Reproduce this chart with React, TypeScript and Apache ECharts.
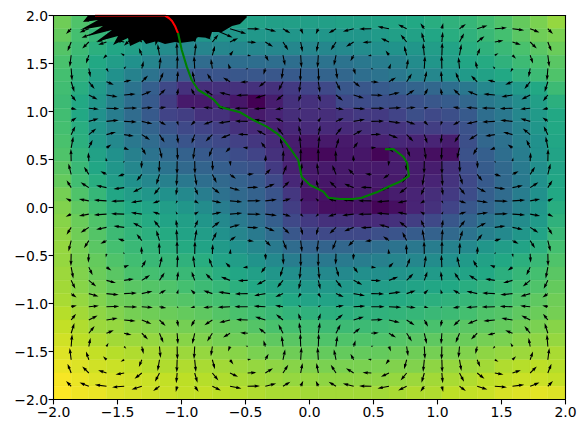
import React, { useEffect, useRef } from "react";
import * as echarts from "echarts";

const gridX = [-2,-1.862,-1.724,-1.586,-1.448,-1.31,-1.172,-1.034,-0.897,-0.759,-0.621,-0.483,-0.345,-0.207,-0.069,0.069,0.207,0.345,0.483,0.621,0.759,0.897,1.034,1.172,1.31,1.448,1.586,1.724,1.862,2];
const gridY = gridX;

// colour level of each cell, top row first, 0..100 along viridis
const heatRows = [
[78,72,70,68,66,64,62,60,58,57,57,57,56,56,56,56,57,57,58,59,60,62,64,66,69,72,76,80,84],
[76,70,66,64,62,58,55,53,52,52,52,53,52,52,52,52,52,52,54,56,57,59,62,64,67,70,74,78,80],
[73,68,63,59,56,52,48,46,45,46,46,46,46,46,46,46,47,48,49,51,52,55,58,62,64,67,71,74,77],
[71,66,60,55,50,45,40,37,35,35,36,36,36,36,37,38,38,40,42,44,48,52,55,59,61,64,68,71,74],
[70,64,57,50,44,38,32,27,26,26,27,27,27,28,30,32,33,36,38,40,44,46,50,54,57,60,64,68,72],
[69,62,54,45,38,30,22,14,13,14,14,14,14,17,20,22,27,27,28,30,32,33,36,40,46,50,54,60,68],
[68,60,52,43,36,28,18,7,7,10,6,0,8,14,14,15,22,23,24,24,25,27,29,33,40,43,48,56,63],
[69,60,50,42,35,28,20,18,14,14,9,7,10,13,13,13,15,17,17,20,24,22,24,28,36,40,46,54,60],
[70,62,52,45,38,32,26,22,20,18,14,12,9,11,12,12,12,13,14,15,17,18,20,25,34,38,44,52,60],
[71,63,54,47,40,35,30,26,24,22,19,16,12,8,6,7,7,8,9,11,10,10,8,24,33,37,43,50,59],
[72,65,57,50,43,38,34,31,28,26,23,20,14,8,2,2,6,6,1,6,6,4,4,25,30,36,42,50,58],
[74,67,59,52,46,42,38,34,32,30,27,25,17,9,7,7,7,7,7,8,8,8,14,23,29,34,41,49,58],
[76,69,62,55,50,46,43,40,36,34,31,28,22,11,7,6,7,7,7,7,8,10,15,22,28,34,41,50,59],
[79,72,66,59,55,52,50,47,42,37,34,31,26,16,6,5,5,7,5,8,10,13,17,23,30,35,42,50,60],
[81,75,69,63,60,58,55,52,48,42,37,33,27,18,8,4,4,5,1,4,10,14,20,27,32,37,44,52,62],
[82,77,72,66,63,61,58,56,52,47,41,36,30,22,17,14,14,12,12,14,18,22,27,32,38,42,48,54,64],
[83,78,73,68,65,63,61,58,55,50,45,41,35,27,22,22,22,22,24,26,29,31,34,38,43,47,52,58,67],
[84,79,74,70,67,65,63,61,58,54,50,46,41,35,32,32,33,34,36,38,40,42,44,47,52,55,58,63,70],
[84,80,76,72,69,67,66,64,62,58,55,51,47,42,40,40,41,42,43,45,46,48,50,54,57,60,63,67,72],
[85,81,77,74,71,70,68,67,65,62,59,56,52,49,47,47,47,49,49,51,52,54,56,58,60,63,66,70,74],
[86,82,79,76,74,73,72,70,68,66,63,60,57,55,53,53,53,54,55,56,58,59,60,62,64,66,69,72,76],
[87,84,81,78,77,75,74,73,71,70,67,65,62,60,58,58,58,59,60,61,62,63,64,66,68,70,72,75,78],
[89,86,83,81,79,78,77,76,75,73,71,69,67,65,64,63,63,64,64,65,66,67,68,70,72,73,75,77,79],
[91,88,85,84,82,81,80,79,78,76,75,73,71,70,69,68,68,68,68,69,70,71,72,74,75,76,78,80,82],
[93,90,88,86,85,84,83,82,81,79,78,77,75,74,73,72,72,72,72,73,74,75,76,77,79,80,82,83,84],
[95,93,91,89,88,87,86,85,84,83,82,80,79,78,77,76,76,76,76,77,78,79,80,81,83,84,85,86,87],
[97,95,93,92,91,89,88,88,87,86,85,84,83,82,81,80,80,80,80,81,81,83,84,85,86,88,89,90,89],
[99,97,95,94,93,92,91,90,89,88,87,86,85,84,84,83,83,83,83,84,85,86,87,88,90,91,92,92,91],
[100,98,97,95,94,93,92,91,91,90,89,88,87,87,86,86,86,86,86,87,88,88,90,91,92,94,95,96,95],
];

const viridisStops = ["#440154","#482475","#414487","#355f8d","#2a788e","#21918c","#22a884","#44bf70","#7ad151","#bddf26","#fde725"];

// arrow components, bottom row first; 100 is about 13.5 px
const uRows = [
[0,-4,-8,-10,-10,-8,-5,-1,3,7,9,10,9,6,2,-2,-6,-9,-10,-9,-7,-3,1,5,8,10,10,8,4,0],
[0,-38,-69,-87,-90,-76,-47,-10,29,63,85,91,80,55,19,-19,-55,-80,-91,-85,-63,-29,10,47,76,90,87,69,38,0],
[0,-27,-49,-62,-64,-54,-34,-7,21,45,60,65,57,39,14,-14,-39,-57,-65,-60,-45,-21,7,34,54,64,62,49,27,0],
[0,-11,-21,-26,-27,-22,-14,-3,9,19,25,27,24,16,6,-6,-16,-24,-27,-25,-19,-9,3,14,22,27,26,21,11,0],
[0,7,12,15,16,13,8,2,-5,-11,-15,-16,-14,-10,-3,3,10,14,16,15,11,5,-2,-8,-13,-16,-15,-12,-7,0],
[0,24,43,54,55,46,29,6,-18,-39,-52,-56,-49,-34,-12,12,34,49,56,52,39,18,-6,-29,-46,-55,-54,-43,-24,0],
[0,36,65,83,85,71,45,9,-28,-59,-80,-86,-76,-52,-18,18,52,76,86,80,59,28,-9,-45,-71,-85,-83,-65,-36,0],
[0,42,75,95,98,82,51,11,-32,-68,-92,-99,-87,-59,-21,21,59,87,99,92,68,32,-11,-51,-82,-98,-95,-75,-42,0],
[0,40,72,91,94,79,49,10,-30,-66,-88,-95,-84,-57,-20,20,57,84,95,88,66,30,-10,-49,-79,-94,-91,-72,-40,0],
[0,31,55,70,72,61,38,8,-23,-50,-68,-73,-64,-44,-15,15,44,64,73,68,50,23,-8,-38,-61,-72,-70,-55,-31,0],
[0,16,28,36,37,31,19,4,-12,-26,-34,-37,-33,-22,-8,8,22,33,37,34,26,12,-4,-19,-31,-37,-36,-28,-16,0],
[0,-2,-4,-5,-5,-4,-3,-1,2,3,5,5,4,3,1,-1,-3,-4,-5,-5,-3,-2,1,3,4,5,5,4,2,0],
[0,-20,-36,-45,-47,-39,-24,-5,15,32,44,47,41,28,10,-10,-28,-41,-47,-44,-32,-15,5,24,39,47,45,36,20,0],
[0,-34,-61,-77,-79,-66,-42,-9,26,55,74,80,70,48,17,-17,-48,-70,-80,-74,-55,-26,9,42,66,79,77,61,34,0],
[0,-41,-74,-94,-97,-81,-51,-11,31,68,91,98,86,59,21,-21,-59,-86,-98,-91,-68,-31,11,51,81,97,94,74,41,0],
[0,-41,-74,-94,-97,-81,-51,-11,31,68,91,98,86,59,21,-21,-59,-86,-98,-91,-68,-31,11,51,81,97,94,74,41,0],
[0,-34,-61,-77,-79,-66,-42,-9,26,55,74,80,70,48,17,-17,-48,-70,-80,-74,-55,-26,9,42,66,79,77,61,34,0],
[0,-20,-36,-45,-47,-39,-24,-5,15,32,44,47,41,28,10,-10,-28,-41,-47,-44,-32,-15,5,24,39,47,45,36,20,0],
[0,-2,-4,-5,-5,-4,-3,-1,2,3,5,5,4,3,1,-1,-3,-4,-5,-5,-3,-2,1,3,4,5,5,4,2,0],
[0,16,28,36,37,31,19,4,-12,-26,-34,-37,-33,-22,-8,8,22,33,37,34,26,12,-4,-19,-31,-37,-36,-28,-16,0],
[0,31,55,70,72,61,38,8,-23,-50,-68,-73,-64,-44,-15,15,44,64,73,68,50,23,-8,-38,-61,-72,-70,-55,-31,0],
[0,40,72,91,94,79,49,10,-30,-66,-88,-95,-84,-57,-20,20,57,84,95,88,66,30,-10,-49,-79,-94,-91,-72,-40,0],
[0,42,75,95,98,82,51,11,-32,-68,-92,-99,-87,-59,-21,21,59,87,99,92,68,32,-11,-51,-82,-98,-95,-75,-42,0],
[0,36,65,83,85,71,45,9,-28,-59,-80,-86,-76,-52,-18,18,52,76,86,80,59,28,-9,-45,-71,-85,-83,-65,-36,0],
[0,24,43,54,55,46,29,6,-18,-39,-52,-56,-49,-34,-12,12,34,49,56,52,39,18,-6,-29,-46,-55,-54,-43,-24,0],
[0,7,12,15,16,13,8,2,-5,-11,-15,-16,-14,-10,-3,3,10,14,16,15,11,5,-2,-8,-13,-16,-15,-12,-7,0],
[0,-11,-21,-26,-27,-22,-14,-3,9,19,25,27,24,16,6,-6,-16,-24,-27,-25,-19,-9,3,14,22,27,26,21,11,0],
[0,-27,-49,-62,-64,-54,-34,-7,21,45,60,65,57,39,14,-14,-39,-57,-65,-60,-45,-21,7,34,54,64,62,49,27,0],
[0,-38,-69,-185,-200,-133,-30,52,120,150,120,91,80,55,19,-19,-55,-80,-91,-85,-63,-29,10,47,76,90,87,69,38,0],
[0,-4,-8,-150,-300,-250,-150,30,150,200,130,10,9,6,2,-2,-6,-9,-10,-9,-7,-3,1,5,8,10,10,8,4,0],
];

const vRows = [
[0,0,0,0,0,0,0,0,0,0,0,0,0,0,0,0,0,0,0,0,0,0,0,0,0,0,0,0,0,0],
[4,38,27,11,-7,-24,-36,-42,-40,-31,-16,2,20,34,41,41,34,20,2,-16,-31,-40,-42,-36,-24,-7,11,27,38,4],
[8,69,49,21,-12,-43,-65,-75,-72,-55,-28,4,36,61,74,74,61,36,4,-28,-55,-72,-75,-65,-43,-12,21,49,69,8],
[10,87,62,26,-15,-54,-83,-95,-91,-70,-36,5,45,77,94,94,77,45,5,-36,-70,-91,-95,-83,-54,-15,26,62,87,10],
[10,90,64,27,-16,-55,-85,-98,-94,-72,-37,5,47,79,97,97,79,47,5,-37,-72,-94,-98,-85,-55,-16,27,64,90,10],
[8,76,54,22,-13,-46,-71,-82,-79,-61,-31,4,39,66,81,81,66,39,4,-31,-61,-79,-82,-71,-46,-13,22,54,76,8],
[5,47,34,14,-8,-29,-45,-51,-49,-38,-19,3,24,42,51,51,42,24,3,-19,-38,-49,-51,-45,-29,-8,14,34,47,5],
[1,10,7,3,-2,-6,-9,-11,-10,-8,-4,1,5,9,11,11,9,5,1,-4,-8,-10,-11,-9,-6,-2,3,7,10,1],
[-3,-29,-21,-9,5,18,28,32,30,23,12,-2,-15,-26,-31,-31,-26,-15,-2,12,23,30,32,28,18,5,-9,-21,-29,-3],
[-7,-63,-45,-19,11,39,59,68,66,50,26,-3,-32,-55,-68,-68,-55,-32,-3,26,50,66,68,59,39,11,-19,-45,-63,-7],
[-9,-85,-60,-25,15,52,80,92,88,68,34,-5,-44,-74,-91,-91,-74,-44,-5,34,68,88,92,80,52,15,-25,-60,-85,-9],
[-10,-91,-65,-27,16,56,86,99,95,73,37,-5,-47,-80,-98,-98,-80,-47,-5,37,73,95,99,86,56,16,-27,-65,-91,-10],
[-9,-80,-57,-24,14,49,76,87,84,64,33,-4,-41,-70,-86,-86,-70,-41,-4,33,64,84,87,76,49,14,-24,-57,-80,-9],
[-6,-55,-39,-16,10,34,52,59,57,44,22,-3,-28,-48,-59,-59,-48,-28,-3,22,44,57,59,52,34,10,-16,-39,-55,-6],
[-2,-19,-14,-6,3,12,18,21,20,15,8,-1,-10,-17,-21,-21,-17,-10,-1,8,15,20,21,18,12,3,-6,-14,-19,-2],
[2,19,14,6,-3,-12,-18,-21,-20,-15,-8,1,10,17,21,21,17,10,1,-8,-15,-20,-21,-18,-12,-3,6,14,19,2],
[6,55,39,16,-10,-34,-52,-59,-57,-44,-22,3,28,48,59,59,48,28,3,-22,-44,-57,-59,-52,-34,-10,16,39,55,6],
[9,80,57,24,-14,-49,-76,-87,-84,-64,-33,4,41,70,86,86,70,41,4,-33,-64,-84,-87,-76,-49,-14,24,57,80,9],
[10,91,65,27,-16,-56,-86,-99,-95,-73,-37,5,47,80,98,98,80,47,5,-37,-73,-95,-99,-86,-56,-16,27,65,91,10],
[9,85,60,25,-15,-52,-80,-92,-88,-68,-34,5,44,74,91,91,74,44,5,-34,-68,-88,-92,-80,-52,-15,25,60,85,9],
[7,63,45,19,-11,-39,-59,-68,-66,-50,-26,3,32,55,68,68,55,32,3,-26,-50,-66,-68,-59,-39,-11,19,45,63,7],
[3,29,21,9,-5,-18,-28,-32,-30,-23,-12,2,15,26,31,31,26,15,2,-12,-23,-30,-32,-28,-18,-5,9,21,29,3],
[-1,-10,-7,-3,2,6,9,11,10,8,4,-1,-5,-9,-11,-11,-9,-5,-1,4,8,10,11,9,6,2,-3,-7,-10,-1],
[-5,-47,-34,-14,8,29,45,51,49,38,19,-3,-24,-42,-51,-51,-42,-24,-3,19,38,49,51,45,29,8,-14,-34,-47,-5],
[-8,-76,-54,-22,13,46,71,82,79,61,31,-4,-39,-66,-81,-81,-66,-39,-4,31,61,79,82,71,46,13,-22,-54,-76,-8],
[-10,-90,-64,-27,16,55,85,98,94,72,37,-5,-47,-79,-97,-97,-79,-47,-5,37,72,94,98,85,55,16,-27,-64,-90,-10],
[-10,-87,-62,-26,15,54,83,95,91,70,36,-5,-45,-77,-94,-94,-77,-45,-5,36,70,91,95,83,54,15,-26,-62,-87,-10],
[-8,-69,-49,-21,12,43,65,75,72,55,28,-4,-36,-61,-74,-74,-61,-36,-4,28,55,72,75,65,43,12,-21,-49,-69,-8],
[-4,-38,-27,-67,-100,-126,-126,-89,-80,-65,-37,-2,-20,-34,-41,-41,-34,-20,-2,16,31,40,42,36,24,7,-11,-27,-38,-4],
[0,0,0,0,-40,-30,-20,0,-20,-20,-10,0,0,0,0,0,0,0,0,0,0,0,0,0,0,0,0,0,0,0],
];

// dense part of the arrows round the top of the plot
const clusterOutline = [[-1.73,2],[-1.77,1.932],[-1.652,1.953],[-1.793,1.849],[-1.613,1.891],[-1.73,1.786],[-1.543,1.849],[-1.668,1.724],[-1.496,1.786],[-1.535,1.693],[-1.418,1.766],[-1.402,1.682],[-1.301,1.745],[-1.277,1.703],[-1.191,1.734],[-1.129,1.703],[-1.051,1.724],[-1.012,1.714],[-0.895,1.734],[-0.879,1.776],[-0.777,1.766],[-0.762,1.828],[-0.684,1.828],[-0.605,1.891],[-0.543,1.911],[-0.488,1.984],[-0.543,2]];

const redPath = [[-1.676,2],[-1.48,2],[-1.246,2],[-1.129,2],[-1.098,1.974],[-1.074,1.943],[-1.051,1.891],[-1.035,1.839],[-1.027,1.818]];
const greenPath = [[-1.027,1.818],[-0.998,1.641],[-0.959,1.467],[-0.92,1.328],[-0.869,1.224],[-0.803,1.172],[-0.752,1.127],[-0.699,1.05],[-0.647,1.029],[-0.543,0.992],[-0.439,0.911],[-0.334,0.842],[-0.256,0.773],[-0.205,0.71],[-0.152,0.617],[-0.088,0.495],[-0.061,0.321],[0.004,0.234],[0.108,0.165],[0.147,0.102],[0.238,0.089],[0.342,0.089],[0.408,0.102],[0.525,0.158],[0.629,0.224],[0.707,0.269],[0.777,0.328],[0.764,0.46],[0.733,0.529],[0.655,0.609],[0.59,0.606]];

const arrowUnit = 0.135; // px per unit
const arrowWidth = 1.1;

function App() {
  const ref = useRef<HTMLDivElement>(null);
  useEffect(() => {
    const chart = echarts.init(ref.current!, undefined, { renderer: "svg" });

    const heatData: number[][] = [];
    heatRows.forEach((row, r) => row.forEach((val, c) => heatData.push([c, 28 - r, val])));
    const arrowData: number[][] = [];
    uRows.forEach((row, j) => row.forEach((u, i) => arrowData.push([gridX[i], gridY[j], u, vRows[j][i]])));

    const tick = (v: number) => v.toFixed(1).replace("-", "\u2212");
    const baseX = { type: "value", min: -2, max: 2, interval: 0.5, splitLine: { show: false }, z: 10 };
    const baseY = { type: "value", min: -2, max: 2, interval: 0.5, splitLine: { show: false }, z: 10 };
    const label = { fontFamily: "DejaVu Sans", fontSize: 13.9, color: "#000", margin: 5.5, formatter: tick };
    const line = { show: true, onZero: false, lineStyle: { color: "#000", width: 1.1 } };
    const mark = { show: true, length: 4.9, lineStyle: { color: "#000", width: 1.1 } };
    const hidden = { axisLabel: { show: false }, axisTick: { show: false }, axisLine: line };

    chart.setOption({
      animation: false,
      backgroundColor: "#fff",
      grid: { left: 53.5, top: 15.5, width: 512, height: 384 },
      xAxis: [
        { ...baseX, position: "bottom", axisLine: line, axisTick: mark, axisLabel: label },
        { ...baseX, position: "top", ...hidden },
      ],
      yAxis: [
        { ...baseY, position: "left", axisLine: line, axisTick: mark, axisLabel: label },
        { ...baseY, position: "right", ...hidden },
      ],
      visualMap: {
        show: false,
        type: "continuous",
        min: 0,
        max: 100,
        dimension: 2,
        seriesIndex: 0,
        inRange: { color: viridisStops },
      },
      series: [
        {
          type: "custom",
          z: 1,
          silent: true,
          clip: true,
          data: heatData,
          encode: { x: 0, y: 1 },
          renderItem: (_p: any, api: any) => {
            const c = api.value(0), r = api.value(1);
            const a = api.coord([gridX[c], gridY[r + 1]]);
            const b = api.coord([gridX[c + 1], gridY[r]]);
            const col = api.visual("color");
            return {
              type: "rect",
              shape: { x: a[0], y: a[1], width: b[0] - a[0], height: b[1] - a[1] },
              style: { fill: col, stroke: col, lineWidth: 0.4 },
            };
          },
        },
        {
          type: "custom",
          z: 2,
          silent: true,
          clip: true,
          data: clusterOutline,
          encode: { x: 0, y: 1 },
          renderItem: (p: any, api: any) => {
            if (p.dataIndex !== 0) return null;
            return {
              type: "polygon",
              shape: { points: clusterOutline.map((q) => api.coord(q)) },
              style: { fill: "#000" },
            };
          },
        },
        {
          type: "custom",
          z: 3,
          silent: true,
          clip: true,
          data: arrowData,
          encode: { x: 0, y: 1 },
          renderItem: (_p: any, api: any) => {
            const t = api.coord([api.value(0), api.value(1)]);
            const dx = api.value(2) * arrowUnit;
            const dy = -api.value(3) * arrowUnit;
            const L = Math.hypot(dx, dy);
            if (L < 0.05) return null;
            const k = Math.min(1, L / (5 * arrowWidth));
            const hw = (arrowWidth / 2) * k;
            const hh = 1.5 * arrowWidth * k;
            const hl = 5 * arrowWidth * k;
            const ha = 4.5 * arrowWidth * k;
            const local = [[0, hw], [L - ha, hw], [L - hl, hh], [L, 0], [L - hl, -hh], [L - ha, -hw], [0, -hw]];
            const cs = dx / L, sn = dy / L;
            return {
              type: "polygon",
              shape: { points: local.map(([a, b]) => [t[0] + a * cs - b * sn, t[1] + a * sn + b * cs]) },
              style: { fill: "#000" },
            };
          },
        },
        {
          type: "line",
          z: 4,
          silent: true,
          data: redPath,
          showSymbol: false,
          symbol: "none",
          lineStyle: { color: "#ff0000", width: 2.08 },
        },
        {
          type: "line",
          z: 4,
          silent: true,
          data: greenPath,
          showSymbol: false,
          symbol: "none",
          lineStyle: { color: "#008000", width: 2.08 },
        },
      ],
    });
    return () => chart.dispose();
  }, []);
  return <div ref={ref} style={{ position: "absolute", left: 0, top: 0, width: 586, height: 433 }} />;
}

export default App;
